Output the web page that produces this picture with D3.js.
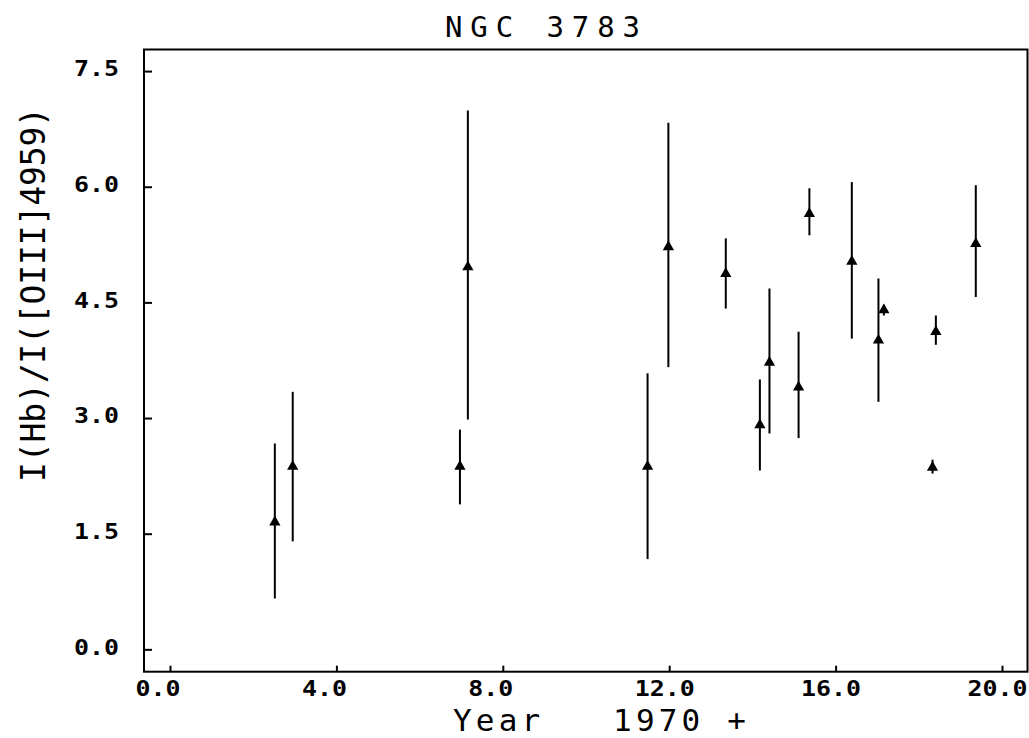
<!DOCTYPE html>
<html>
<head>
<meta charset="utf-8">
<script src="https://cdn.jsdelivr.net/npm/d3@7"></script>
<style>
  body { margin: 0; background: #fff; }
  svg { display: block; }
</style>
</head>
<body>
<div id="chartDiv"></div>
<script>
// NGC 3783 : I(Hb)/I([OIII]4959) versus year (1970 +)
var years  = [2.52, 2.95, 6.97, 7.16, 11.48, 11.98, 13.36, 14.18, 14.41, 15.11, 15.37, 16.39, 17.03, 17.16, 18.33, 18.41, 19.37];
var ratio  = [1.65, 2.37, 2.37, 4.96, 2.37, 5.22, 4.87, 2.91, 3.72, 3.40, 5.65, 5.03, 4.01, 4.40, 2.36, 4.12, 5.26];
var lower  = [0.66, 1.40, 1.88, 2.98, 1.17, 3.66, 4.42, 2.32, 2.80, 2.74, 5.37, 4.03, 3.21, 4.33, 2.28, 3.95, 4.57];
var upper  = [2.67, 3.34, 2.85, 6.99, 3.58, 6.83, 5.33, 3.50, 4.68, 4.12, 5.98, 6.06, 4.81, 4.47, 2.46, 4.33, 6.02];

var xTicks = [0, 4, 8, 12, 16, 20];
var yTicks = [0, 1.5, 3.0, 4.5, 6.0, 7.5];

var titleText = "NGC 3783";
var xTitle = "Year   1970 +";
var yTitle = "I(Hb)/I([OIII]4959)";

var W = 1029, H = 738;
var plot = {left: 144, top: 49.5, right: 1027.5, bottom: 671.7};

var svg = d3.select("#chartDiv").append("svg")
    .attr("width", W)
    .attr("height", H);

var x_scale = d3.scaleLinear()
    .domain([-0.625, 20.613])
    .range([plot.left, plot.right]);

var y_scale = d3.scaleLinear()
    .domain([-0.29, 7.78])
    .range([plot.bottom, plot.top]);

var tickFont = "'DejaVu Sans Mono', monospace";
var charW = 15;   // plotter characters are wide

function styleTicks(sel) {
    sel.style("font-family", tickFont)
        .style("font-size", "22px")
        .style("font-weight", "bold")
        .attr("textLength", function(d){ return this.textContent.length * charW; })
        .attr("lengthAdjust", "spacingAndGlyphs")
        .attr("fill", "#000");
}

// frame
svg.append("rect")
    .attr("x", plot.left)
    .attr("y", plot.top)
    .attr("width", plot.right - plot.left)
    .attr("height", plot.bottom - plot.top)
    .attr("fill", "none")
    .attr("stroke", "#000")
    .attr("stroke-width", 2);

// x axis, ticks pointing inward
var xAxis = d3.axisBottom(x_scale)
    .tickValues(xTicks)
    .tickSizeInner(-6)
    .tickSizeOuter(0)
    .tickFormat(d3.format(".1f"));

var xGroup = svg.append("g")
    .attr("transform", "translate(0," + plot.bottom + ")")
    .call(xAxis);
xGroup.select(".domain").remove();
xGroup.selectAll(".tick line").attr("stroke-width", 2);
xGroup.selectAll(".tick text")
    .attr("text-anchor", "start")
    .attr("x", -35)
    .attr("y", 0)
    .attr("dy", 24.5)
    .call(styleTicks);

// y axis
var yAxis = d3.axisLeft(y_scale)
    .tickValues(yTicks)
    .tickSizeInner(-8)
    .tickSizeOuter(0)
    .tickFormat(d3.format(".1f"));

var yGroup = svg.append("g")
    .attr("transform", "translate(" + plot.left + ",0)")
    .call(yAxis);
yGroup.select(".domain").remove();
yGroup.selectAll(".tick line").attr("stroke-width", 2);
yGroup.selectAll(".tick text")
    .attr("x", -25)
    .attr("dy", "0.22em")
    .call(styleTicks);

// error bars
var pts = years.map(function(d, i) {
    return {year: d, val: ratio[i], lo: lower[i], hi: upper[i]};
});

var chart_svg = svg.append("g").attr("class", "svg_chart");

chart_svg.selectAll(".errbar").data(pts).enter()
    .append("line").attr("class", "errbar")
    .attr("x1", function(d){ return x_scale(d.year); })
    .attr("x2", function(d){ return x_scale(d.year); })
    .attr("y1", function(d){ return y_scale(d.lo); })
    .attr("y2", function(d){ return y_scale(d.hi); })
    .attr("stroke", "#000")
    .attr("stroke-width", 2);

chart_svg.selectAll(".datapoints").data(pts).enter()
    .append("path").attr("class", "datapoints")
    .attr("d", d3.symbol().type(d3.symbolTriangle).size(55))
    .attr("transform", function(d){
        return "translate(" + x_scale(d.year) + "," + y_scale(d.val) + ")";
    })
    .attr("fill", "#000");

// titles
svg.append("text")
    .attr("x", 445)
    .attr("y", 37)
    .attr("textLength", 195)
    .attr("lengthAdjust", "spacing")
    .style("font-family", "'DejaVu Sans Mono', monospace")
    .style("font-size", "29px")
    .attr("fill", "#000")
    .text(titleText);

svg.append("text")
    .attr("x", 453)
    .attr("y", 730.5)
    .attr("textLength", 293)
    .attr("lengthAdjust", "spacing")
    .style("font-family", "'DejaVu Sans Mono', monospace")
    .style("font-size", "31px")
    .style("white-space", "pre")
    .attr("fill", "#000")
    .text(xTitle);

svg.append("text")
    .attr("transform", "translate(45,482) rotate(-90)")
    .attr("x", 0)
    .attr("y", 0)
    .attr("textLength", 375)
    .attr("lengthAdjust", "spacing")
    .style("font-family", "'DejaVu Sans Mono', monospace")
    .style("font-size", "33px")
    .attr("fill", "#000")
    .text(yTitle);
</script>
</body>
</html>
